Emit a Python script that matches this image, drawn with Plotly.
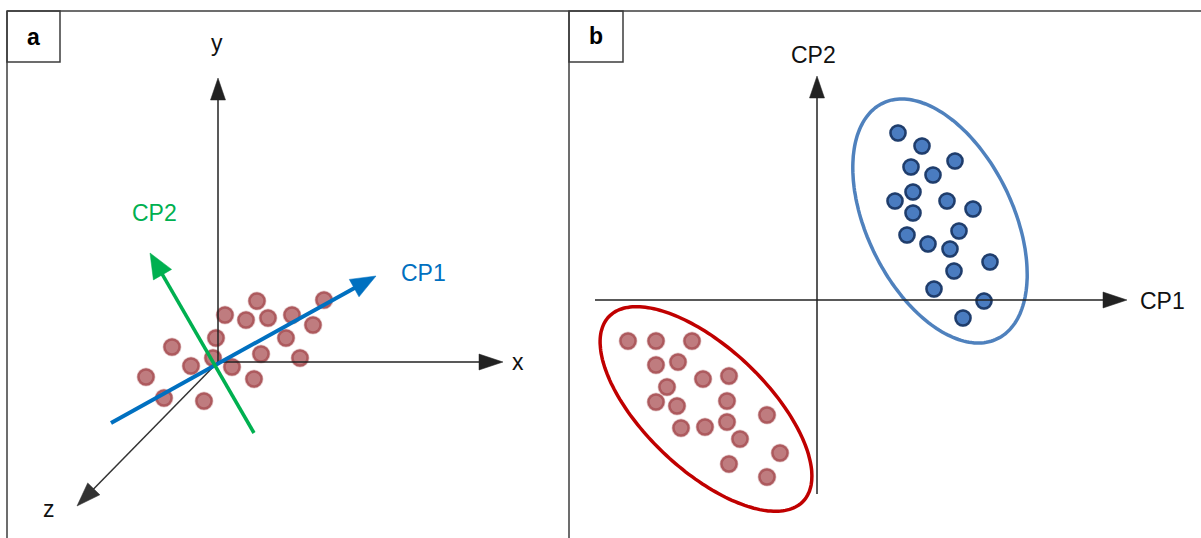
import numpy as np
import plotly.graph_objects as go

# panel a: cloud of points (pixel-like diagram coords, y grows downward)
a_x = [257, 324, 225, 246, 268, 292, 313, 216, 286, 172, 261, 213, 191, 232, 300, 254, 146, 164, 204]
a_y = [301, 300, 315, 320, 318, 315, 325, 338, 338, 347, 354, 358, 366, 367, 358, 379, 377, 398, 401]

# panel b: red group
r_x = [628, 656, 692, 656, 678, 703, 729, 667, 656, 677, 727, 767, 681, 705, 727, 740, 780, 729, 767]
r_y = [341, 341, 341, 365, 362, 379, 376, 387, 402, 406, 401, 415, 428, 427, 422, 439, 453, 464, 477]

# panel b: blue group
b_x = [898, 922, 955, 911, 933, 913, 895, 947, 973, 913, 959, 907, 928, 950, 990, 954, 934, 984, 963]
b_y = [133, 146, 161, 167, 175, 192, 201, 201, 209, 213, 231, 235, 244, 249, 262, 271, 289, 301, 318]

W, H = 1201, 538
FONT = "Liberation Sans, Arial, sans-serif"

fig = go.Figure()


def blob(x, y, core, ring, halo, size=15, grow=4):
    fig.add_trace(go.Scatter(x=x, y=y, mode="markers", hoverinfo="skip",
                             marker=dict(size=size + grow, color=halo, line=dict(width=0))))
    fig.add_trace(go.Scatter(x=x, y=y, mode="markers", hoverinfo="skip",
                             marker=dict(size=size, color=core, line=dict(width=2.5, color=ring))))


shapes = []


def arrow(tail, tip, color, width, hl, hw):
    tail = np.array(tail, float)
    tip = np.array(tip, float)
    d = (tip - tail) / np.linalg.norm(tip - tail)
    base = tip - hl * d
    n = np.array([-d[1], d[0]])
    p1, p2 = base + hw * n, base - hw * n
    shapes.append(dict(type="line", x0=tail[0], y0=tail[1], x1=base[0] + d[0], y1=base[1] + d[1],
                       line=dict(color=color, width=width), layer="above"))
    shapes.append(dict(type="path", path=f"M {tip[0]} {tip[1]} L {p1[0]} {p1[1]} L {p2[0]} {p2[1]} Z",
                       fillcolor=color, line=dict(color=color, width=0.5), layer="above"))


def ellipse(cx, cy, a, b, ang, color):
    t = np.linspace(0, 2 * np.pi, 200)
    th = np.radians(ang)
    xs = cx + a * np.cos(t) * np.cos(th) - b * np.sin(t) * np.sin(th)
    ys = cy + a * np.cos(t) * np.sin(th) + b * np.sin(t) * np.cos(th)
    p = "M " + " L ".join(f"{x:.1f} {y:.1f}" for x, y in zip(xs, ys)) + " Z"
    shapes.append(dict(type="path", path=p, line=dict(color=color, width=3.5), layer="below"))


# frame
frame = dict(color="#3c3c3c", width=1.5)
shapes += [
    dict(type="line", x0=7, y0=11, x1=W, y1=11, line=frame),
    dict(type="line", x0=7, y0=11, x1=7, y1=H, line=frame),
    dict(type="line", x0=569, y0=11, x1=569, y1=H, line=frame),
    dict(type="rect", x0=7, y0=11, x1=60, y1=62, line=frame),
    dict(type="rect", x0=569, y0=11, x1=623, y1=62, line=frame),
]

# panel a axes
arrow((218, 362), (218, 78), "#222222", 1.5, 22, 7.5)
arrow((218, 362), (503, 362), "#222222", 1.5, 24, 8)
arrow((218, 362), (77, 506), "#333333", 1.5, 24, 8.5)

# panel b axes
shapes.append(dict(type="line", x0=817, y0=300, x1=817, y1=494, line=dict(color="#222222", width=1.5)))
arrow((817, 300), (817, 76), "#222222", 1.5, 22, 7.5)
arrow((595, 300), (1127, 300), "#222222", 1.5, 24, 8)

ellipse(706, 409, 134, 61, 43.5, "#c00000")
ellipse(940, 221, 131, 73, 64, "#4f81bd")

blob(a_x, a_y, "#bf7c7f", "#ad5a5e", "rgba(175,95,100,0.3)")
blob(r_x, r_y, "#bf7c7f", "#ad5a5e", "rgba(175,95,100,0.3)")
blob(b_x, b_y, "#4a7cc0", "#1f3d6c", "rgba(40,70,120,0.25)", size=15, grow=3)

# principal component arrows in panel a
arrow((111, 423), (376, 276), "#0070c0", 4, 25, 10)
arrow((254, 433), (150, 253), "#00b050", 3.5, 25, 10.5)

labels = [
    ("a", 33.5, 37, "#000000", True),
    ("b", 596, 36, "#000000", True),
    ("y", 217, 43, "#111111", False),
    ("x", 518, 362, "#111111", False),
    ("z", 49, 509, "#111111", False),
    ("CP1", 423, 273, "#0070c0", False),
    ("CP2", 154.5, 213, "#00b050", False),
    ("CP2", 813, 55, "#111111", False),
    ("CP1", 1162, 301, "#111111", False),
]
annotations = [
    dict(x=x, y=y, text=f"<b>{t}</b>" if bold else t, showarrow=False,
         font=dict(family=FONT, size=23, color=c), xanchor="center", yanchor="middle")
    for t, x, y, c, bold in labels
]

fig.update_layout(
    width=W, height=H, margin=dict(l=0, r=0, t=0, b=0),
    paper_bgcolor="white", plot_bgcolor="white", showlegend=False,
    xaxis=dict(range=[0, W], visible=False, fixedrange=True),
    yaxis=dict(range=[H, 0], visible=False, fixedrange=True),
    shapes=shapes, annotations=annotations,
)

fig.write_html("out.html", config={"displayModeBar": False},
               post_script="document.body.style.margin='0';")
